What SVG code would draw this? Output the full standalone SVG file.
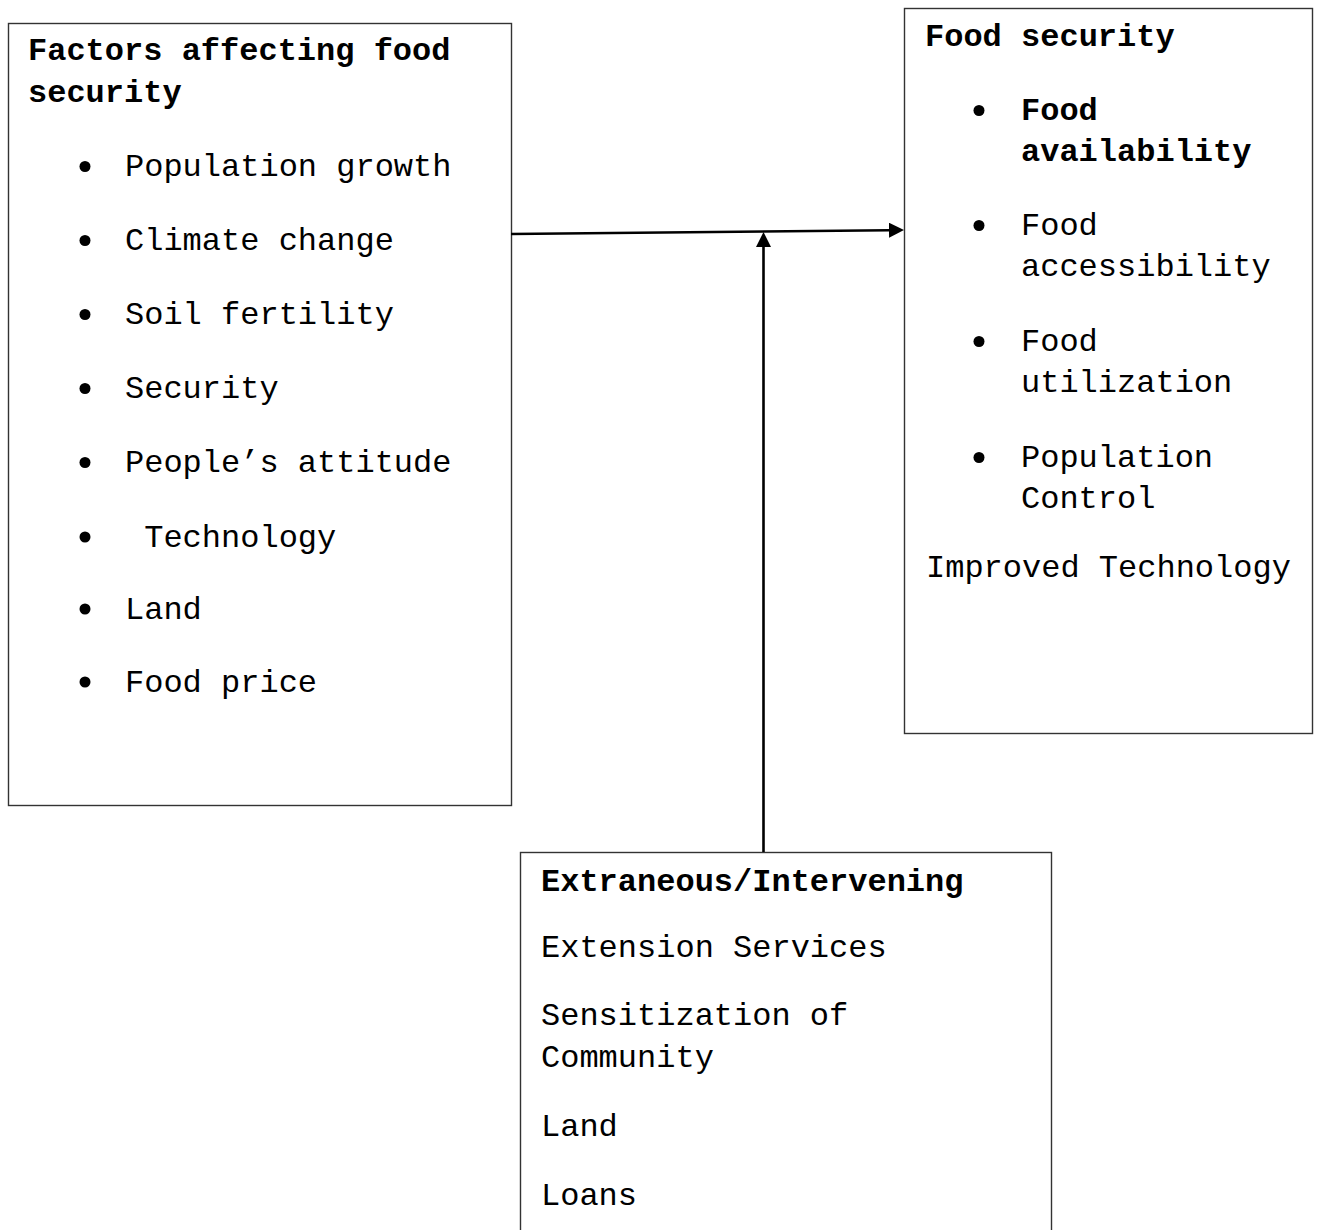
<svg xmlns="http://www.w3.org/2000/svg" width="1317" height="1230" viewBox="0 0 1317 1230">
  <defs>
    <style>
      .box { fill: #ffffff; stroke: #333333; stroke-width: 1.4; }
      .t { font-family: "Liberation Mono", "Courier New", monospace; font-size: 32px; fill: #000000; }
      .b { font-weight: bold; }
      .dot { fill: #000000; }
      .conn { stroke: #000000; stroke-width: 2.6; fill: none; }
    </style>
    <marker id="arrow" markerUnits="userSpaceOnUse" markerWidth="16" markerHeight="16" refX="0" refY="7.5" orient="auto">
      <path d="M0,0 L15,7.5 L0,15 Z" fill="#000000"/>
    </marker>
  </defs>

  <rect x="0" y="0" width="1317" height="1230" fill="#ffffff"/>

  <!-- Independent variables -->
  <g id="factors">
    <rect class="box" x="8.5" y="23.5" width="503" height="782"/>
    <text class="t b" x="28" y="60">Factors affecting food</text>
    <text class="t b" x="28" y="102">security</text>
    <circle class="dot" cx="85" cy="166.5" r="5.5"/>
    <text class="t" x="125" y="176">Population growth</text>
    <circle class="dot" cx="85" cy="240.5" r="5.5"/>
    <text class="t" x="125" y="250">Climate change</text>
    <circle class="dot" cx="85" cy="314.5" r="5.5"/>
    <text class="t" x="125" y="324">Soil fertility</text>
    <circle class="dot" cx="85" cy="388.5" r="5.5"/>
    <text class="t" x="125" y="398">Security</text>
    <circle class="dot" cx="85" cy="462.5" r="5.5"/>
    <text class="t" x="125" y="472">People’s attitude</text>
    <circle class="dot" cx="85" cy="537" r="5.5"/>
    <text class="t" x="125" y="547" xml:space="preserve"> Technology</text>
    <circle class="dot" cx="85" cy="609" r="5.5"/>
    <text class="t" x="125" y="619">Land</text>
    <circle class="dot" cx="85" cy="682" r="5.5"/>
    <text class="t" x="125" y="692">Food price</text>
  </g>

  <!-- Dependent variable -->
  <g id="food-security">
    <rect class="box" x="904.5" y="8.5" width="408" height="725"/>
    <text class="t b" x="925" y="46">Food security</text>
    <circle class="dot" cx="979" cy="110.5" r="5.5"/>
    <text class="t b" x="1021" y="120">Food</text>
    <text class="t b" x="1021" y="161">availability</text>
    <circle class="dot" cx="979" cy="225.5" r="5.5"/>
    <text class="t" x="1021" y="235">Food</text>
    <text class="t" x="1021" y="276">accessibility</text>
    <circle class="dot" cx="979" cy="341.5" r="5.5"/>
    <text class="t" x="1021" y="351">Food</text>
    <text class="t" x="1021" y="392">utilization</text>
    <circle class="dot" cx="979" cy="457.5" r="5.5"/>
    <text class="t" x="1021" y="467">Population</text>
    <text class="t" x="1021" y="508">Control</text>
    <text class="t" x="926" y="577">Improved Technology</text>
  </g>

  <!-- Intervening variables -->
  <g id="intervening">
    <rect class="box" x="520.5" y="852.5" width="531" height="400"/>
    <text class="t b" x="541" y="891">Extraneous/Intervening</text>
    <text class="t" x="541" y="957">Extension Services</text>
    <text class="t" x="541" y="1025">Sensitization of</text>
    <text class="t" x="541" y="1067">Community</text>
    <text class="t" x="541" y="1136">Land</text>
    <text class="t" x="541" y="1205">Loans</text>
  </g>

  <!-- Connectors -->
  <g id="connectors">
    <line class="conn" x1="511" y1="234" x2="889" y2="230.2" marker-end="url(#arrow)"/>
    <line class="conn" x1="763.5" y1="852" x2="763.5" y2="247" marker-end="url(#arrow)"/>
  </g>
</svg>
